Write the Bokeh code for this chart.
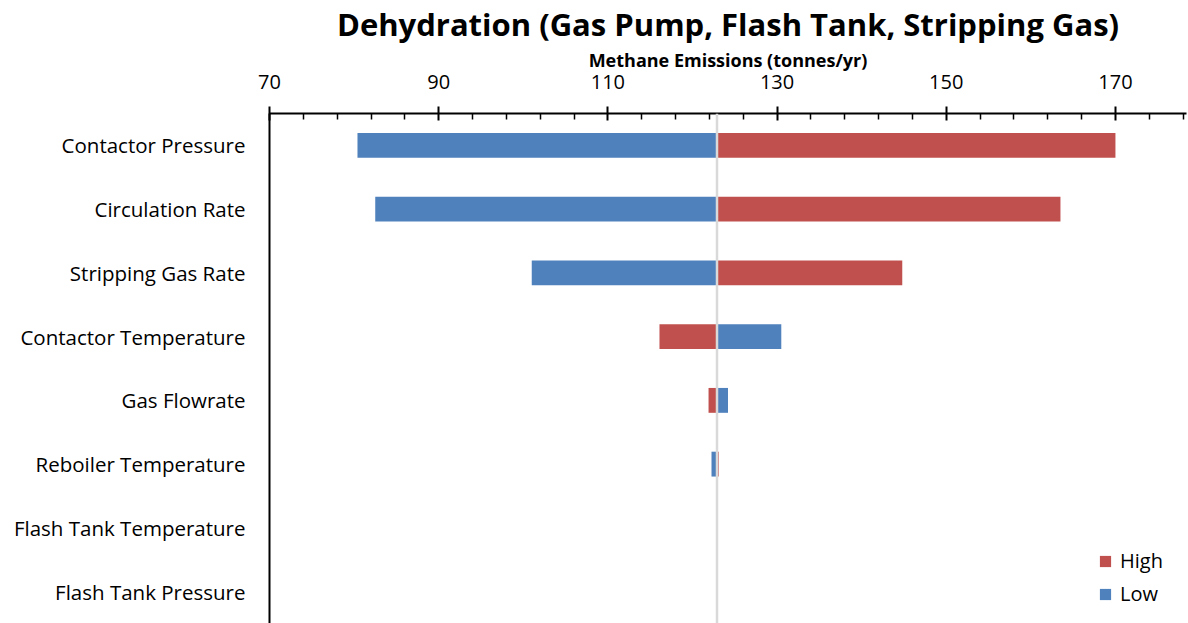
from bokeh.plotting import figure
from bokeh.models import Range1d, FactorRange, FixedTicker, Span, Legend, LegendItem
from bokeh.embed import file_html
from bokeh.resources import INLINE

categories = ["Contactor Pressure", "Circulation Rate", "Stripping Gas Rate",
              "Contactor Temperature", "Gas Flowrate", "Reboiler Temperature",
              "Flash Tank Temperature", "Flash Tank Pressure"]
base_value = 122.9
low_values = [80.4, 82.5, 101.0, 130.5, 124.2, 122.25, 122.9, 122.9]
high_values = [170.0, 163.5, 144.8, 116.1, 121.9, 123.1, 122.9, 122.9]
major_ticks = [70, 90, 110, 130, 150, 170]
minor_ticks = [74, 78, 82, 86, 94, 98, 102, 106, 114, 118, 122, 126,
               134, 138, 142, 146, 154, 158, 162, 166, 174, 178]

FONT = "Open Sans"
BLUE = "#4F81BD"
RED = "#C0504D"

p = figure(width=1188, height=623, output_backend="svg", toolbar_location=None,
           x_range=Range1d(70, 178.4), y_range=FactorRange(*reversed(categories)),
           x_axis_location="above", min_border_left=269, min_border_right=2,
           min_border_top=113, min_border_bottom=0)
p.outline_line_color = None
p.xgrid.visible = False
p.ygrid.visible = False
p.background_fill_color = "white"
p.border_fill_color = "white"

p.title.text = "Dehydration (Gas Pump, Flash Tank, Stripping Gas)"
p.title.text_font = FONT
p.title.text_font_size = "31px"
p.title.text_font_style = "bold"
p.title.align = "center"
p.title.text_color = "black"
p.title.standoff = 0

xa = p.xaxis[0]
xa.ticker = FixedTicker(ticks=major_ticks, minor_ticks=minor_ticks)
xa.axis_label = "Methane Emissions (tonnes/yr)"
xa.axis_label_text_font = FONT
xa.axis_label_text_font_size = "18px"
xa.axis_label_text_font_style = "bold"
xa.axis_label_text_color = "black"
xa.axis_label_standoff = 0
xa.major_label_text_font = FONT
xa.major_label_text_font_size = "20px"
xa.major_label_text_color = "black"
xa.major_label_standoff = 18
xa.axis_line_color = "black"
xa.axis_line_width = 2
xa.major_tick_line_color = "black"
xa.major_tick_line_width = 2
xa.major_tick_in = 7
xa.major_tick_out = 7
xa.minor_tick_line_color = "black"
xa.minor_tick_line_width = 1.5
xa.minor_tick_in = 6
xa.minor_tick_out = 0

ya = p.yaxis[0]
ya.axis_line_color = "black"
ya.axis_line_width = 2
ya.major_tick_line_color = None
ya.minor_tick_line_color = None
ya.major_tick_in = 0
ya.major_tick_out = 0
ya.major_label_text_font = FONT
ya.major_label_text_font_size = "20.5px"
ya.major_label_text_color = "black"
ya.major_label_standoff = 24

bar_h = 0.39
r_low = p.hbar(y=categories, left=base_value, right=low_values, height=bar_h,
               fill_color=BLUE, line_color=None)
r_high = p.hbar(y=categories, left=base_value, right=high_values, height=bar_h,
                fill_color=RED, line_color=None)

p.add_layout(Span(location=base_value, dimension="height", line_color="#D9D9D9", line_width=2.5))

legend = Legend(items=[LegendItem(label="High", renderers=[r_high]),
                       LegendItem(label="Low", renderers=[r_low])],
                location=(829, 16), border_line_color=None, background_fill_alpha=0,
                label_text_font=FONT, label_text_font_size="20px",
                label_text_color="black",
                glyph_width=14, glyph_height=14, spacing=6, padding=4, margin=0,
                label_standoff=8)
p.add_layout(legend)

open("out.html", "w").write(file_html(p, INLINE))
